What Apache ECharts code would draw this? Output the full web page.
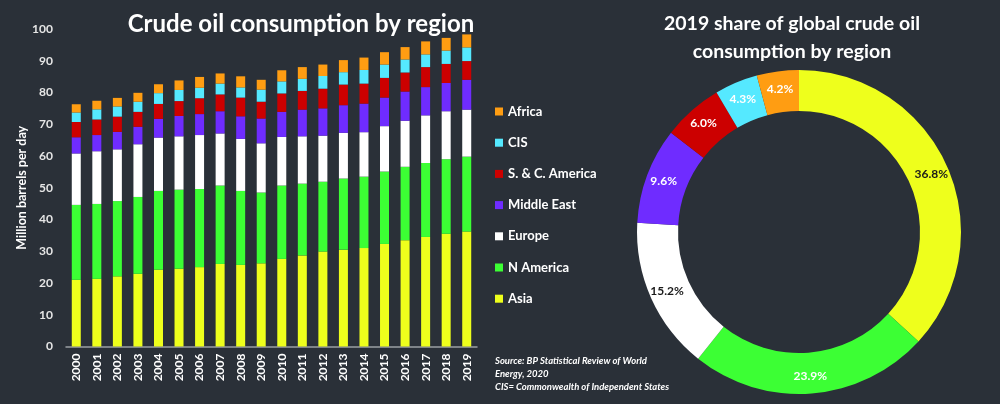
<!DOCTYPE html>
<html>
<head>
<meta charset="utf-8">
<script src="https://cdn.jsdelivr.net/npm/echarts@6/dist/echarts.min.js"></script>
<style>
  html, body { margin: 0; padding: 0; background: #2a3038; }
  #chart { width: 1000px; height: 404px; }
</style>
</head>
<body>
<div id="chart"></div>
<script>
// data (million barrels per day)
const years = ['2000', '2001', '2002', '2003', '2004', '2005', '2006', '2007', '2008', '2009',
  '2010', '2011', '2012', '2013', '2014', '2015', '2016', '2017', '2018', '2019']
const asia = [21.0, 21.3, 22.1, 22.9, 24.2, 24.5, 25.0, 26.0, 25.7, 26.2, 27.6, 28.7, 29.9, 30.5, 31.0, 32.3, 33.5, 34.5, 35.5, 36.2]
const nAmerica = [23.6, 23.6, 23.7, 24.2, 24.8, 24.9, 24.6, 24.7, 23.3, 22.3, 23.1, 22.6, 22.0, 22.4, 22.5, 22.8, 23.1, 23.3, 23.5, 23.6]
const europe = [16.2, 16.6, 16.3, 16.6, 16.8, 16.8, 17.0, 16.4, 16.4, 15.5, 15.3, 14.9, 14.5, 14.4, 14.0, 14.3, 14.5, 15.0, 15.1, 14.8]
const middleEast = [5.1, 5.1, 5.5, 5.5, 5.9, 6.4, 6.6, 7.0, 7.1, 7.8, 7.9, 8.4, 8.6, 8.7, 9.0, 9.0, 9.2, 8.9, 8.9, 9.4]
const scAmerica = [4.8, 4.9, 4.8, 4.7, 4.7, 4.7, 5.0, 5.3, 5.9, 5.3, 5.8, 5.9, 6.2, 6.5, 6.3, 6.2, 6.0, 6.3, 6.0, 5.9]
const cis = [3.0, 3.2, 3.2, 3.2, 3.4, 3.5, 3.3, 3.4, 3.2, 3.8, 3.8, 3.8, 4.0, 3.9, 4.3, 4.2, 4.1, 4.0, 4.2, 4.3]
const africa = [2.6, 2.7, 2.7, 2.8, 2.8, 3.0, 3.4, 3.2, 3.5, 3.1, 3.5, 3.7, 3.6, 3.8, 3.9, 3.9, 3.9, 4.1, 4.0, 4.1]

// 2019 share (%)
const shareNames = ['Asia', 'N America', 'Europe', 'Middle East', 'S. & C. America', 'CIS', 'Africa']
const shareValues = [36.8, 23.9, 15.2, 9.6, 6.0, 4.3, 4.2]

const colors = {
  'Asia': '#eeff1c',
  'N America': '#3cff34',
  'Europe': '#ffffff',
  'Middle East': '#6f2cff',
  'S. & C. America': '#cc0000',
  'CIS': '#55e9ff',
  'Africa': '#ff9d12'
}
const labelDark = ['Asia', 'Europe']

const font = 'Lato'
const stackSeries = [
  ['Asia', asia], ['N America', nAmerica], ['Europe', europe], ['Middle East', middleEast],
  ['S. & C. America', scAmerica], ['CIS', cis], ['Africa', africa]
].map(([name, data]) => ({
  name: name,
  type: 'bar',
  stack: 'total',
  barWidth: 9,
  itemStyle: { color: colors[name] },
  data: data
}))

const myEcharts = echarts.init(document.getElementById('chart'))
myEcharts.setOption({
  backgroundColor: '#2a3038',
  animation: false,
  textStyle: { fontFamily: font },
  title: [
    {
      text: 'Crude oil consumption by region',
      left: 296,
      top: 7,
      textAlign: 'center',
      textStyle: { color: '#ffffff', fontSize: 24, fontWeight: 'bold', fontFamily: font }
    },
    {
      text: '2019 share of global crude oil\nconsumption by region',
      left: 787,
      top: 5,
      textAlign: 'center',
      textStyle: { color: '#ffffff', fontSize: 19.5, fontWeight: 'bold', lineHeight: 28, fontFamily: font }
    },
    {
      text: 'Source: BP Statistical Review of World\nEnergy, 2020\nCIS= Commonwealth of Independent States',
      left: 490,
      top: 349,
      textStyle: { color: '#ffffff', fontSize: 9.5, fontWeight: 'bold', fontStyle: 'italic', lineHeight: 13, fontFamily: font }
    }
  ],
  legend: {
    orient: 'vertical',
    left: 490,
    top: 100,
    itemWidth: 8,
    itemHeight: 8,
    itemGap: 18.2,
    icon: 'rect',
    data: ['Africa', 'CIS', 'S. & C. America', 'Middle East', 'Europe', 'N America', 'Asia'],
    textStyle: { color: '#ffffff', fontSize: 13, fontWeight: 'bold', fontFamily: font }
  },
  grid: {
    left: 66,
    top: 29,
    width: 411,
    height: 317.5
  },
  xAxis: {
    type: 'category',
    data: years,
    axisLine: { lineStyle: { color: '#9a9ea3', width: 1.5 } },
    axisTick: { show: false },
    axisLabel: { rotate: 90, color: '#ffffff', fontSize: 12, fontWeight: 'bold', margin: 7 }
  },
  yAxis: {
    type: 'value',
    min: 0,
    max: 100,
    interval: 10,
    name: 'Million barrels per day',
    nameLocation: 'middle',
    nameGap: 37,
    nameTextStyle: { color: '#ffffff', fontSize: 12.5, fontWeight: 'bold' },
    splitLine: { show: false },
    axisLine: { show: false },
    axisTick: { show: false },
    axisLabel: { color: '#e6e6e6', fontSize: 12, fontWeight: 'bold', margin: 13 }
  },
  series: stackSeries.concat([
    {
      name: 'share',
      type: 'pie',
      center: [799, 232],
      radius: [121, 162],
      startAngle: 90,
      clockwise: true,
      legendHoverLink: false,
      label: {
        position: 'inside',
        fontSize: 12,
        fontWeight: 'bold',
        fontFamily: font,
        formatter: p => p.value.toFixed(1) + '%'
      },
      labelLine: { show: false },
      data: shareNames.map((n, i) => ({
        name: n,
        value: shareValues[i],
        itemStyle: { color: colors[n] },
        label: { color: labelDark.includes(n) ? '#1a1a1a' : '#ffffff' }
      }))
    }
  ])
})
</script>
</body>
</html>
